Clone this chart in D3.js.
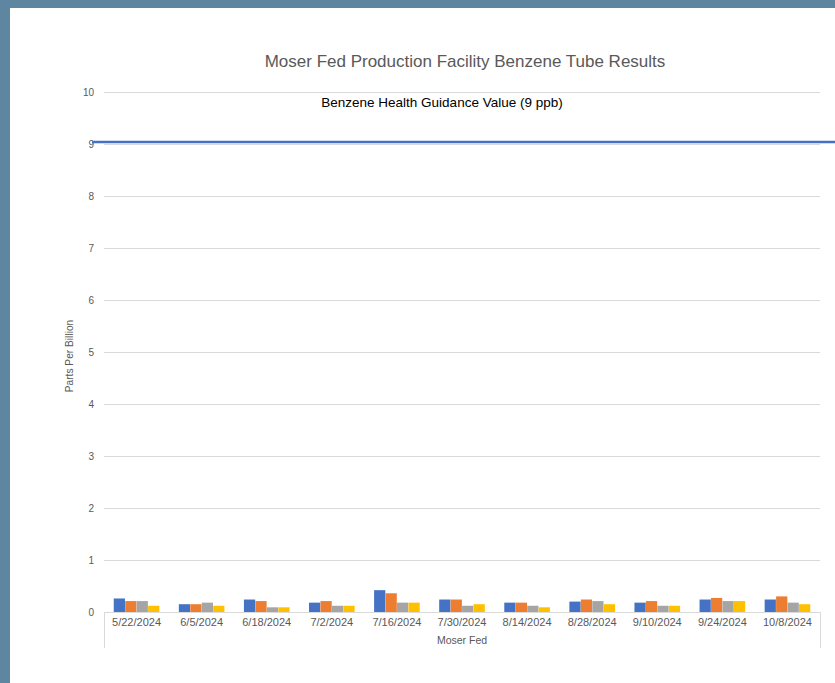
<!DOCTYPE html>
<html>
<head>
<meta charset="utf-8">
<script src="https://cdn.jsdelivr.net/npm/d3@7"></script>
<style>
  html, body { margin: 0; padding: 0; background: #5e86a0; }
  svg { display: block; font-family: "Liberation Sans", Arial, sans-serif; }
</style>
</head>
<body>
<svg id="chart"></svg>
<script>
// data
const dates = ['5/22/2024', '6/5/2024', '6/18/2024', '7/2/2024', '7/16/2024', '7/30/2024',
  '8/14/2024', '8/28/2024', '9/10/2024', '9/24/2024', '10/8/2024'];
const seriesA = [0.26, 0.15, 0.24, 0.18, 0.42, 0.24, 0.18, 0.20, 0.18, 0.24, 0.24];
const seriesB = [0.21, 0.15, 0.21, 0.21, 0.36, 0.24, 0.18, 0.24, 0.21, 0.27, 0.30];
const seriesC = [0.21, 0.18, 0.09, 0.12, 0.18, 0.12, 0.12, 0.21, 0.12, 0.21, 0.18];
const seriesD = [0.12, 0.12, 0.09, 0.12, 0.18, 0.15, 0.09, 0.15, 0.12, 0.21, 0.15];
const yTicks = [0, 1, 2, 3, 4, 5, 6, 7, 8, 9, 10];
const guidanceValue = 9;
const groupName = 'Moser Fed';

const colors = ['#4472c4', '#ed7d31', '#a5a5a5', '#ffc000'];
const series = [seriesA, seriesB, seriesC, seriesD];

const width = 835, height = 683;
const margin = { top: 92, left: 104, right: 15, bottom: 71 };
const innerWidth = width - margin.left - margin.right;
const innerHeight = height - margin.top - margin.bottom;

const svg = d3.select('#chart').attr('width', width).attr('height', height);

// white panel
svg.append('rect').attr('x', 10).attr('y', 8)
  .attr('width', width - 10).attr('height', height - 8).attr('fill', '#fff');

const g = svg.append('g').attr('transform', `translate(${margin.left},${margin.top})`);

const x = d3.scaleBand().domain(dates).range([0, innerWidth]).paddingInner(0).paddingOuter(0);
const x1 = d3.scaleBand().domain(d3.range(4)).range([0, x.bandwidth()]).paddingInner(0.02).paddingOuter(0.85);
const y = d3.scaleLinear().domain([0, 10]).range([innerHeight, 0]);

// gridlines + y labels
const axisLeft = d3.axisLeft(y).tickValues(yTicks).tickSizeInner(-innerWidth).tickSizeOuter(0).tickPadding(10);
g.append('g').attr('class', 'axis y').call(axisLeft)
  .call(s => s.select('.domain').remove())
  .call(s => s.selectAll('line').attr('stroke', '#d9d9d9'))
  .call(s => s.selectAll('text').attr('fill', '#595959').attr('font-size', 10));

// bars
const groups = g.selectAll('.grp').data(dates).enter().append('g')
  .attr('class', 'grp').attr('transform', d => `translate(${x(d)},0)`);
groups.selectAll('rect').data((d, i) => series.map((s, k) => ({ k, v: s[i] })))
  .enter().append('rect')
  .attr('x', d => x1(d.k))
  .attr('width', x1.bandwidth())
  .attr('y', d => y(d.v))
  .attr('height', d => innerHeight - y(d.v))
  .attr('fill', d => colors[d.k]);

// category axis box
const boxH = 36;
g.append('line').attr('x1', 0).attr('x2', innerWidth).attr('y1', innerHeight + 0.5).attr('y2', innerHeight + 0.5)
  .attr('stroke', '#d9d9d9');
[0, innerWidth].forEach(px => {
  g.append('line').attr('x1', px + 0.5).attr('x2', px + 0.5)
    .attr('y1', innerHeight).attr('y2', innerHeight + boxH).attr('stroke', '#d9d9d9');
});
g.selectAll('.xlab').data(dates).enter().append('text')
  .attr('x', d => x(d) + x.bandwidth() / 2).attr('y', innerHeight + 14)
  .attr('text-anchor', 'middle').attr('font-size', 11).attr('fill', '#595959')
  .text(d => d);
g.append('text').attr('x', innerWidth / 2).attr('y', innerHeight + 32)
  .attr('text-anchor', 'middle').attr('font-size', 10.5).attr('fill', '#595959').text(groupName);

// guidance line
g.append('line').attr('x1', -12).attr('x2', width - margin.left)
  .attr('y1', y(guidanceValue) - 2).attr('y2', y(guidanceValue) - 2)
  .attr('stroke', '#4472c4').attr('stroke-width', 2.5);
g.append('text').attr('x', 338).attr('y', y(guidanceValue) - 37)
  .attr('text-anchor', 'middle').attr('font-size', 13.5).attr('fill', '#000')
  .text('Benzene Health Guidance Value (' + guidanceValue + ' ppb)');

// title
svg.append('text').attr('x', 465).attr('y', 67).attr('text-anchor', 'middle')
  .attr('font-size', 17).attr('fill', '#595959')
  .text('Moser Fed Production Facility Benzene Tube Results');

// y label
svg.append('text').attr('transform', `translate(73,${margin.top + innerHeight / 2 + 4}) rotate(-90)`)
  .attr('text-anchor', 'middle').attr('font-size', 10.2).attr('fill', '#595959')
  .text('Parts Per Billion');
</script>
</body>
</html>
